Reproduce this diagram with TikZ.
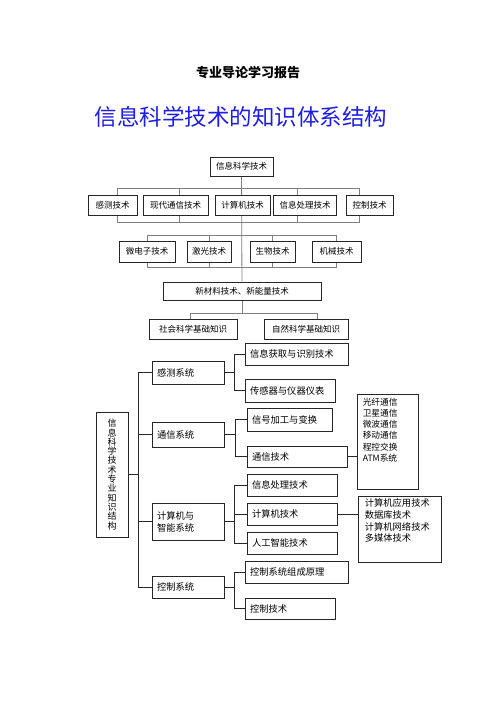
\documentclass[tikz,border=0pt]{standalone}
\usepackage{fontspec}
\setmainfont{Noto Sans CJK SC}
\usetikzlibrary{backgrounds}
\definecolor{titleblue}{RGB}{30,30,225}

\begin{document}
\begin{tikzpicture}[x=1pt,y=-1pt,
	box/.style={draw=black!85,fill=white,line width=0.9pt,inner sep=0pt,font=\fontsize{8.5}{10}\selectfont},
	lbox/.style={draw=black!85,fill=white,line width=0.8pt,inner xsep=5pt,inner ysep=0pt,text width=#1,align=left,font=\fontsize{9.3}{12}\selectfont},
	link/.style={draw=black!50,line width=0.8pt},
	tie/.style={draw=black!85,line width=0.8pt}]
\useasboundingbox (0,0) rectangle (496,702);

\node[font=\bfseries\fontsize{13}{13}\selectfont] (bg) at (248,73) {专业导论学习报告};
\node[text=titleblue,font=\fontsize{22.5}{24}\selectfont] (tt) at (241,117) {信息科学技术的知识体系结构};

\node[box,minimum width=63pt,minimum height=19pt] (xxkx) at (241.5,166.5) {信息科学技术};

\node[box,minimum width=49pt,minimum height=20pt] (gcjs) at (112.5,205) {感测技术};
\node[box,minimum width=65pt,minimum height=20pt] (xdtx) at (175.5,205) {现代通信技术};
\node[box,minimum width=55pt,minimum height=20pt] (jsjjs) at (242.5,205) {计算机技术};
\node[box,minimum width=63pt,minimum height=20pt] (xxcl) at (305,205) {信息处理技术};
\node[box,minimum width=47pt,minimum height=20pt] (kzjs) at (369.5,205) {控制技术};

\node[box,minimum width=56pt,minimum height=21pt] (wdz) at (147,251.5) {微电子技术};
\node[box,minimum width=44pt,minimum height=21pt] (jg) at (209,251.5) {激光技术};
\node[box,minimum width=45pt,minimum height=21pt] (sw) at (272.5,251.5) {生物技术};
\node[box,minimum width=49pt,minimum height=21pt] (jx) at (336.5,251.5) {机械技术};

\node[box,minimum width=158pt,minimum height=18pt] (xcl) at (242,291) {新材料技术、新能量技术};

\node[box,minimum width=88pt,minimum height=20pt] (sh) at (193,329) {社会科学基础知识};
\node[box,minimum width=84pt,minimum height=20pt] (zr) at (306,329) {自然科学基础知识};

\node[box,minimum width=32pt,minimum height=125pt,align=center,font=\fontsize{9}{9.3}\selectfont] (zyzs) at (112,474.5)
	{信\\息\\科\\学\\技\\术\\专\\业\\知\\识\\结\\构};

\node[lbox=62pt,minimum height=23pt] (cgxt) at (188,372.5) {感测系统};
\node[lbox=62pt,minimum height=25pt] (txxt) at (188,434.5) {通信系统};
\node[lbox=62pt,minimum height=37pt] (jsjzn) at (188,521.5) {计算机与\\智能系统};
\node[lbox=62pt,minimum height=22pt] (kzxt) at (188,587) {控制系统};

\node[lbox=93pt,minimum height=22pt] (hq) at (296.5,354) {信息获取与识别技术};
\node[lbox=80pt,minimum height=23pt] (cgq) at (290,390.5) {传感器与仪器仪表};
\node[lbox=75pt,minimum height=23pt] (xh) at (289.5,419.5) {信号加工与变换};
\node[lbox=90pt,minimum height=21pt] (txjs) at (297,456.5) {通信技术};
\node[lbox=80pt,minimum height=22pt] (xxcljs) at (292,485) {信息处理技术};
\node[lbox=80pt,minimum height=22pt] (jsj) at (292,514) {计算机技术};
\node[lbox=80pt,minimum height=22pt] (rgzn) at (292,543) {人工智能技术};
\node[lbox=93pt,minimum height=22pt] (zcyl) at (296.5,572) {控制系统组成原理};
\node[lbox=80pt,minimum height=21pt] (kzjs2) at (290,608.5) {控制技术};

\node[box,minimum width=61pt,minimum height=95pt] (txl) at (387.5,441.5) {};
\node[anchor=north west,inner sep=0pt,align=left,font=\fontsize{8.7}{11.3}\selectfont] (txlt) at ([shift={(6pt,-4pt)}]txl.north west)
	{光纤通信\\卫星通信\\微波通信\\移动通信\\程控交换\\ATM系统};
\node[box,minimum width=83pt,minimum height=66pt] (jsl) at (399.5,529) {};
\node[anchor=north west,inner sep=0pt,align=left,font=\fontsize{9.3}{11.7}\selectfont] (jslt) at ([shift={(7pt,-3pt)}]jsl.north west)
	{计算机应用技术\\数据库技术\\计算机网络技术\\多媒体技术};

\begin{scope}[on background layer]
\draw[link] (xxkx) -- (xcl);
\draw[link] ([shift={(4.5pt,6pt)}]gcjs.north) rectangle ([shift={(-10.5pt,-7pt)}]kzjs.south);
\draw[link] ([shift={(3.5pt,6pt)}]xdtx.north) -- ([shift={(3.5pt,-7pt)}]xdtx.south);
\draw[link] ([shift={(-8pt,6pt)}]xxcl.north) -- ([shift={(-8pt,-7pt)}]xxcl.south);
\draw[link] ([yshift=5pt]wdz.north) rectangle ([yshift=-5pt]jx.south);
\draw[link] ([yshift=5pt]jg.north) -- ([yshift=-5pt]jg.south);
\draw[link] ([yshift=5pt]sw.north) -- ([yshift=-5pt]sw.south);
\draw[link] (xcl.south) -- ++(0,13) coordinate (fk);
\draw[link] ([xshift=-3pt]sh.north) |- (fk) -| ([xshift=11pt]zr.north);
\end{scope}

\draw[tie] (cgxt.west) -- ++(-13,0) coordinate (sp) |- (kzxt.west);
\draw[tie] (txxt.west) -- ++(-13,0);
\draw[tie] (jsjzn.west) -- ++(-13,0);
\draw[tie] (zyzs.east) -- (zyzs.east -| sp);

\draw[tie] (cgxt.east) -- ++(11,0);
\draw[tie] (hq.west) -- ++(-10,0) |- (cgq.west);
\draw[tie] (txxt.east) -- ++(12,0);
\draw[tie] (xh.west) -- ++(-11,0) |- (txjs.west);
\draw[tie] (jsjzn.east) -- ++(11,0);
\draw[tie] (xxcljs.west) -- ++(-12,0) |- (rgzn.west);
\draw[tie] (jsj.west) -- ++(-12,0);
\draw[tie] (kzxt.east) -- ++(11,0);
\draw[tie] (zcyl.west) -- ++(-10,0) |- (kzjs2.west);

\draw[tie] (txjs.east) -- (txjs.east -| txl.west);
\draw[tie] (jsj.east) -- (jsj.east -| jsl.west);
\end{tikzpicture}
\end{document}
